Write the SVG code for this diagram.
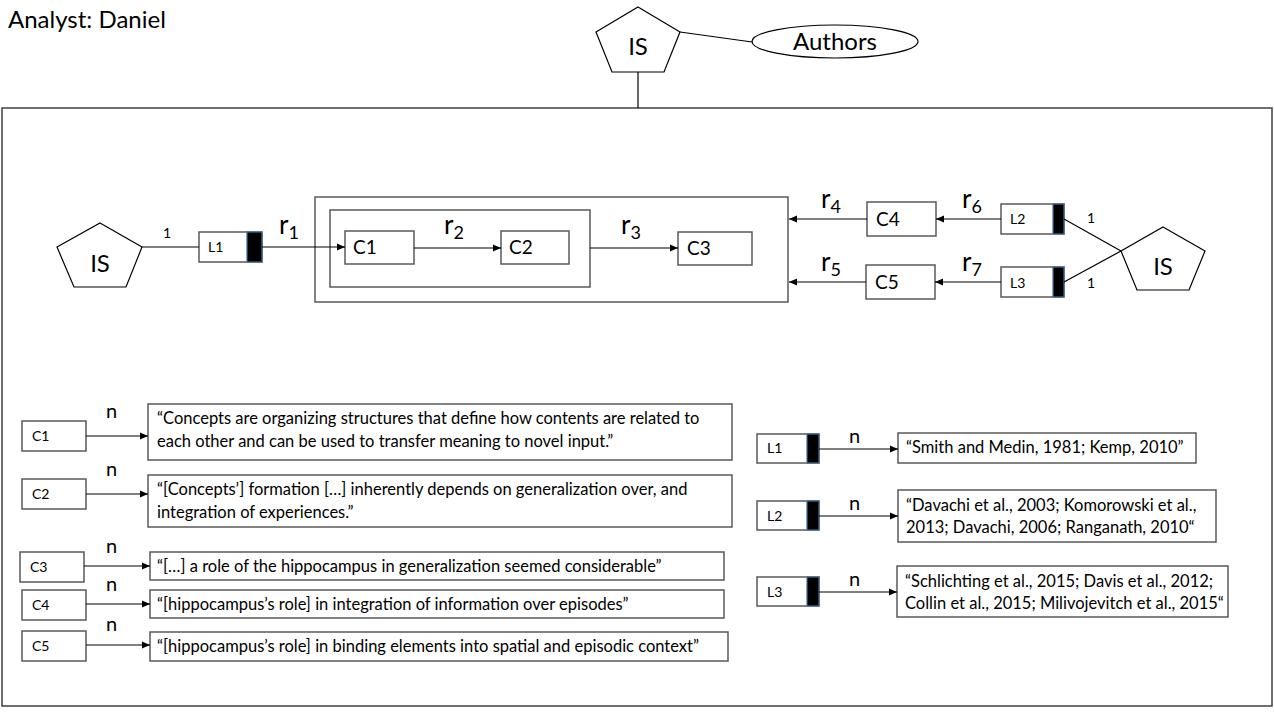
<svg xmlns="http://www.w3.org/2000/svg" width="1274" height="724" viewBox="0 0 1274 724">
<style>
text{font-family:Lato,"Liberation Sans",sans-serif;fill:#000}
.box{fill:#fff;stroke:#595959;stroke-width:1.5}
.frame{fill:none;stroke:#404040;stroke-width:1.5}
.pent{fill:#fff;stroke:#000;stroke-width:1.2}
.blk{fill:#000;stroke:#41719c;stroke-width:1.2}
.ln{stroke:#000;stroke-width:1.2;fill:none}
.arr{stroke:#000;stroke-width:1.2;fill:none;marker-end:url(#ah)}
.lbl{font-size:19px}
.big{font-size:24px}
.sm{font-size:14px}
.q{font-size:16.5px}
.r{font-size:26px}
.rs{font-size:18px}
.n{font-size:20px}
</style>
<defs>
<marker id="ah" markerUnits="userSpaceOnUse" markerWidth="9" markerHeight="8" refX="8" refY="4" orient="auto">
<path d="M0,0.5 L8,4 L0,7.5 Z" fill="#000"/>
</marker>
</defs>
<text id="analyst" x="8" y="28" font-size="24">Analyst: Daniel</text>
<rect class="frame" x="2" y="108" width="1270" height="598"/>
<g id="is-top">
<polygon class="pent" points="638,7 680,32 664,72 612,72 596,32"/>
<text class="big" x="638" y="55" text-anchor="middle">IS</text>
</g>
<g id="authors">
<ellipse class="pent" cx="835" cy="41.5" rx="83" ry="16.5"/>
<text class="big" x="835" y="50" text-anchor="middle">Authors</text>
</g>
<g id="is-left">
<polygon class="pent" points="100,223 142,247 126,287 74,287 57,247"/>
<text class="big" x="100" y="272" text-anchor="middle">IS</text>
</g>
<g id="is-right">
<polygon class="pent" points="1163,227 1205,251 1189,290 1137,290 1121,251"/>
<text class="big" x="1163" y="275" text-anchor="middle">IS</text>
</g>
<g id="L1">
<rect class="box" x="199" y="232" width="63" height="30"/>
<rect class="blk" x="247" y="232" width="15" height="30"/>
<text class="sm" x="208" y="252">L1</text>
</g>
<g id="outer">
<rect class="box" x="315" y="197" width="473" height="105"/>
</g>
<g id="inner">
<rect class="box" x="330" y="210" width="260" height="77"/>
</g>
<g id="C1">
<rect class="box" x="345" y="231" width="69" height="33"/>
<text class="lbl" x="353" y="254">C1</text>
</g>
<g id="C2">
<rect class="box" x="501" y="231" width="68" height="33"/>
<text class="lbl" x="509" y="254">C2</text>
</g>
<g id="C3">
<rect class="box" x="678" y="232" width="74" height="33"/>
<text class="lbl" x="687" y="255">C3</text>
</g>
<g id="C4">
<rect class="box" x="867" y="202" width="69" height="34"/>
<text class="lbl" x="876" y="226">C4</text>
</g>
<g id="C5">
<rect class="box" x="866" y="265" width="69" height="34"/>
<text class="lbl" x="875" y="289">C5</text>
</g>
<g id="L2">
<rect class="box" x="1001" y="204" width="63" height="30"/>
<rect class="blk" x="1053" y="204" width="11" height="30"/>
<text class="sm" x="1010" y="224">L2</text>
</g>
<g id="L3">
<rect class="box" x="1001" y="267" width="63" height="30"/>
<rect class="blk" x="1053" y="267" width="11" height="30"/>
<text class="sm" x="1010" y="288">L3</text>
</g>
<g id="legend-C1">
<rect class="box" x="22" y="421" width="64" height="30"/>
<text class="sm" x="32" y="441">C1</text>
<rect class="box" x="148" y="404" width="584" height="56"/>
<text class="q" x="157" y="424">“Concepts are organizing structures that define how contents are related to</text>
<text class="q" x="157" y="447">each other and can be used to transfer meaning to novel input.”</text>
</g>
<g id="legend-C2">
<rect class="box" x="22" y="479" width="64" height="30"/>
<text class="sm" x="32" y="499">C2</text>
<rect class="box" x="148" y="475" width="584" height="52"/>
<text class="q" x="157" y="495">“[Concepts’] formation […] inherently depends on generalization over, and</text>
<text class="q" x="157" y="518">integration of experiences.”</text>
</g>
<g id="legend-C3">
<rect class="box" x="20" y="552" width="64" height="30"/>
<text class="sm" x="30" y="572">C3</text>
<rect class="box" x="150" y="552" width="574" height="28"/>
<text class="q" x="157" y="572">“[…] a role of the hippocampus in generalization seemed considerable”</text>
</g>
<g id="legend-C4">
<rect class="box" x="22" y="590" width="64" height="30"/>
<text class="sm" x="32" y="610">C4</text>
<rect class="box" x="150" y="590" width="574" height="28"/>
<text class="q" x="157" y="610">“[hippocampus’s role] in integration of information over episodes”</text>
</g>
<g id="legend-C5">
<rect class="box" x="22" y="631" width="64" height="30"/>
<text class="sm" x="32" y="651">C5</text>
<rect class="box" x="150" y="632" width="578" height="29"/>
<text class="q" x="157" y="652">“[hippocampus’s role] in binding elements into spatial and episodic context”</text>
</g>
<g id="legend-L1">
<rect class="box" x="757" y="434" width="62" height="29"/>
<rect class="blk" x="807" y="434" width="12" height="29"/>
<text class="sm" x="767" y="453">L1</text>
<rect class="box" x="898" y="433" width="298" height="30"/>
<text class="q" x="906" y="453">“Smith and Medin, 1981; Kemp, 2010”</text>
</g>
<g id="legend-L2">
<rect class="box" x="757" y="501" width="62" height="29"/>
<rect class="blk" x="807" y="501" width="12" height="29"/>
<text class="sm" x="767" y="521">L2</text>
<rect class="box" x="898" y="490" width="318" height="52"/>
<text class="q" x="906" y="511">“Davachi et al., 2003; Komorowski et al.,</text>
<text class="q" x="906" y="533">2013; Davachi, 2006; Ranganath, 2010“</text>
</g>
<g id="legend-L3">
<rect class="box" x="757" y="577" width="62" height="29"/>
<rect class="blk" x="807" y="577" width="12" height="29"/>
<text class="sm" x="767" y="597">L3</text>
<rect class="box" x="897" y="566" width="331" height="51"/>
<text class="q" x="905" y="587">“Schlichting et al., 2015; Davis et al., 2012;</text>
<text class="q" x="905" y="609">Collin et al., 2015; Milivojevitch et al., 2015“</text>
</g>
<g id="connectors">
<line class="ln" x1="638" y1="72" x2="638" y2="108"/>
<line class="ln" x1="680" y1="32" x2="752" y2="42"/>
<line class="ln" x1="142" y1="247" x2="199" y2="247"/>
<line class="arr" x1="262" y1="247" x2="345" y2="247"/>
<line class="arr" x1="414" y1="248" x2="501" y2="248"/>
<line class="arr" x1="590" y1="248" x2="678" y2="248"/>
<line class="arr" x1="867" y1="219" x2="789" y2="219"/>
<line class="arr" x1="1001" y1="219" x2="936" y2="219"/>
<line class="arr" x1="866" y1="282" x2="789" y2="282"/>
<line class="arr" x1="1001" y1="282" x2="935" y2="282"/>
<line class="ln" x1="1064" y1="219" x2="1121" y2="251"/>
<line class="ln" x1="1064" y1="282" x2="1121" y2="251"/>
<line class="arr" x1="86" y1="436" x2="148" y2="436"/>
<line class="arr" x1="86" y1="494" x2="148" y2="494"/>
<line class="arr" x1="84" y1="566" x2="150" y2="566"/>
<line class="arr" x1="86" y1="604" x2="150" y2="604"/>
<line class="arr" x1="86" y1="645" x2="150" y2="645"/>
<line class="arr" x1="819" y1="449" x2="898" y2="449"/>
<line class="arr" x1="819" y1="516" x2="898" y2="516"/>
<line class="arr" x1="819" y1="592" x2="897" y2="592"/>
<text class="sm" x="167" y="238" text-anchor="middle">1</text>
<text class="sm" x="1091" y="223" text-anchor="middle">1</text>
<text class="sm" x="1091" y="288" text-anchor="middle">1</text>
<text class="r" x="279" y="234">r<tspan class="rs" dy="5">1</tspan></text>
<text class="r" x="444" y="234">r<tspan class="rs" dy="5">2</tspan></text>
<text class="r" x="621" y="234">r<tspan class="rs" dy="5">3</tspan></text>
<text class="r" x="821" y="208">r<tspan class="rs" dy="5">4</tspan></text>
<text class="r" x="821" y="271">r<tspan class="rs" dy="5">5</tspan></text>
<text class="r" x="962" y="208">r<tspan class="rs" dy="5">6</tspan></text>
<text class="r" x="962" y="271">r<tspan class="rs" dy="5">7</tspan></text>
<text class="n" x="106" y="418">n</text>
<text class="n" x="106" y="476">n</text>
<text class="n" x="106" y="553">n</text>
<text class="n" x="106" y="591">n</text>
<text class="n" x="106" y="631">n</text>
<text class="n" x="849" y="443">n</text>
<text class="n" x="849" y="510">n</text>
<text class="n" x="849" y="586">n</text>
</g>
</svg>
